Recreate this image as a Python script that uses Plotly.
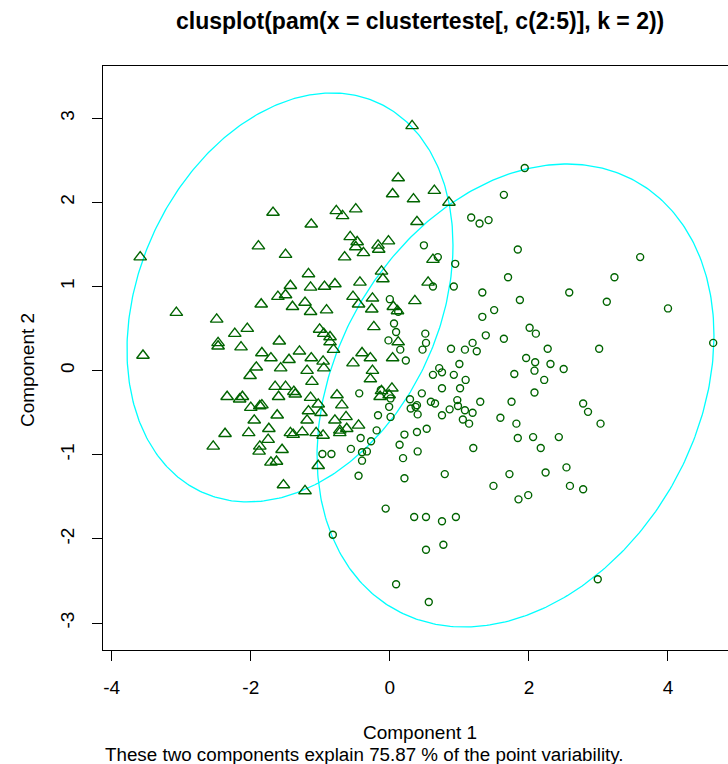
import numpy as np
import plotly.graph_objects as go

# Cluster 1 members (triangles), coordinates on the first two principal components
tri_x = [0.32, 0.12, 0.64, 0.04, 0.34, 0.85, -0.77, -0.49, -0.68, 0.39, -1.13, -1.68,
         -1.89, -1.50, -3.59, -0.57, -0.47, -0.49, -0.17, -0.02, -0.16, -0.38, -0.65, 0.62,
         -1.17, -0.12, -0.10, -0.79, -0.43, -1.14, -0.94, 0.55, -1.43, -1.61, -1.50, -1.85,
         -1.22, -1.40, -1.14, -3.07, -2.49, -2.05, -2.23, -1.01, -1.59, -2.47, -2.47, -2.14,
         -3.55, -1.84, -1.71, -1.30, -1.13, -1.45, -1.92, -1.57, -1.19, -2.01, -1.12, -1.65,
         -1.50, -1.38, -1.36, -1.60, -2.34, -2.16, -2.12, -1.14, -1.84, -1.87, -2.00, -1.03,
         -1.62, -1.17, -1.19, -1.95, -1.74, -2.03, -2.37, -1.43, -1.26, -1.39, -1.06, -1.75,
         -2.54, -1.87, -1.88, -1.55, -1.71, -1.63, -1.03, -0.53, -0.45, -0.25, -0.26, 0.05,
         0.11, 0.36, -0.91, -0.23, -0.95, -0.86, -0.86, 0.12, -0.96, -0.95, -0.81, -0.40,
         -0.28, -0.53, 0.04, -0.25, -0.28, -0.12, 0.03, -0.14, -0.01, -0.76, -0.69, -0.99,
         -0.79, -0.63, -0.72, -0.62, -0.45, -0.96, -0.72, -1.53, -1.22]
tri_y = [2.91, 2.29, 2.14, 2.10, 2.04, 2.00, 1.90, 1.92, 1.84, 1.77, 1.74, 1.88,
         1.48, 1.38, 1.35, 1.59, 1.53, 1.47, 1.49, 1.54, 1.44, 1.40, 1.35, 1.32,
         1.15, 1.18, 1.09, 1.03, 1.05, 0.99, 1.00, 1.05, 1.01, 0.88, 0.90, 0.79,
         0.81, 0.76, 0.70, 0.69, 0.61, 0.50, 0.44, 0.49, 0.35, 0.33, 0.29, 0.28,
         0.18, 0.21, 0.15, 0.23, 0.15, 0.13, 0.04, 0.03, 0.00, -0.06, -0.13, -0.19,
         -0.19, -0.25, -0.28, -0.31, -0.31, -0.34, -0.31, -0.32, -0.41, -0.42, -0.44, -0.40,
         -0.53, -0.48, -0.59, -0.59, -0.69, -0.74, -0.75, -0.74, -0.73, -0.76, -0.74, -0.82,
         -0.90, -0.90, -0.96, -0.94, -1.09, -1.08, -1.13, 0.88, 0.79, 0.86, 0.73, 0.76,
         0.71, 0.83, 0.72, 0.52, 0.44, 0.40, 0.34, 0.34, 0.11, 0.03, 0.25, 0.21,
         0.15, 0.09, 0.15, 0.00, -0.10, -0.24, -0.21, -0.31, -0.29, -0.29, -0.41, -0.50,
         -0.59, -0.55, -0.71, -0.69, -0.65, -0.77, -0.74, -1.36, -1.43]

# Cluster 2 members (circles)
circ_x = [1.17, 1.29, 1.42, 0.49, 0.69, 0.94, 0.62, 0.92, 1.94, 1.64, 1.84, 3.60,
          1.70, 3.23, 1.33, 1.87, 2.58, 3.12, 4.00, 1.50, 1.33, 2.01, 2.10, 1.38,
          1.64, 4.65, 2.27, 3.01, 1.96, 2.09, 2.31, 2.08, 2.50, 1.79, 2.22, 2.08,
          1.30, 1.75, 2.78, 2.85, 1.59, 1.82, 3.03, 1.84, 2.06, 2.43, 2.17, 2.54,
          2.24, 1.72, 1.49, 1.85, 1.99, 2.59, 2.78, 2.99, -0.40, 0.19, -0.45, 0.21,
          0.79, -0.06, 0.35, 0.52, 0.75, 0.95, -0.82, 0.52, 0.77, 0.09, 0.56, 0.00,
          0.12, 0.06, 0.09, 0.51, -0.02, 0.52, 0.15, 0.47, 0.88, 1.19, 1.08, 1.25,
          0.23, 1.00, 0.71, 0.62, 0.75, 0.92, 1.09, 0.75, 1.01, -0.44, 0.46, -0.13,
          0.01, -0.01, 0.01, 0.29, 0.39, 0.37, 0.30, 0.59, 0.65, 0.40, 0.97, 0.98,
          0.86, 1.08, 1.19, 0.75, 1.05, 1.14, -0.17, -0.19, -0.42, -0.27, -0.56, -0.40,
          -0.33, -0.97, -0.84, 0.21, 0.39, 0.53, 0.14, 0.40, 1.20]
circ_y = [1.82, 1.75, 1.79, 1.49, 1.35, 1.27, 1.00, 1.00, 2.41, 2.09, 1.44, 1.35,
          1.11, 1.11, 0.93, 0.84, 0.93, 0.82, 0.74, 0.72, 0.64, 0.51, 0.44, 0.42,
          0.38, 0.33, 0.26, 0.26, 0.15, 0.10, 0.08, 0.00, 0.02, -0.04, -0.11, -0.26,
          -0.37, -0.37, -0.39, -0.49, -0.56, -0.63, -0.63, -0.80, -0.79, -0.79, -0.92, -1.15,
          -1.21, -1.23, -1.37, -1.53, -1.48, -1.37, -1.41, -2.48, -1.07, -1.04, -1.25, -1.28,
          -1.23, -1.64, -1.74, -1.74, -1.79, -1.74, -1.95, -2.13, -2.07, -2.54, -2.75, 0.85,
          0.70, 0.56, 0.46, 0.44, 0.36, 0.33, 0.25, 0.25, 0.26, 0.33, 0.25, 0.23,
          0.12, 0.08, 0.03, -0.05, -0.02, -0.05, -0.11, -0.21, -0.21, -0.27, -0.27, -0.23,
          -0.33, -0.43, -0.55, -0.34, -0.41, -0.43, -0.45, -0.37, -0.39, -0.52, -0.35, -0.42,
          -0.46, -0.47, -0.50, -0.53, -0.58, -0.63, -0.53, -0.71, -0.80, -0.84, -0.93, -0.97,
          -0.96, -0.99, -0.99, -0.76, -0.73, -0.69, -0.88, -0.96, -0.92]

# Cluster spanning ellipses: centre, half extents along x / y, and the
# vertical offset of the point where the ellipse reaches its x extreme
ell_cx = [-1.436, 1.807]
ell_cy = [0.870, -0.295]
ell_hx = [2.344, 2.854]
ell_hy = [2.431, 2.752]
ell_off = [0.624, 0.713]

x_ticks = [-4, -2, 0, 2, 4]
y_ticks = [-3, -2, -1, 0, 1, 2, 3]
x_tick_text = ["-4", "-2", "0", "2", "4"]
y_tick_text = ["-3", "-2", "-1", "0", "1", "2", "3"]

title_text = "clusplot(pam(x = clusterteste[, c(2:5)], k = 2))"
sub_text = "These two components explain 75.87 % of the point variability."

FONT = "Liberation Sans, Arial, sans-serif"
GREEN = "#006400"

fig = go.Figure()

t = np.linspace(0, 2 * np.pi, 400)
for cx, cy, hx, hy, off in zip(ell_cx, ell_cy, ell_hx, ell_hy, ell_off):
    ex = cx + hx * np.cos(t)
    ey = cy + off * np.cos(t) + np.sqrt(hy ** 2 - off ** 2) * np.sin(t)
    fig.add_trace(go.Scatter(x=ex, y=ey, mode="lines",
                             line=dict(color="#00FFFF", width=1.3),
                             hoverinfo="skip", showlegend=False))

fig.add_trace(go.Scatter(x=tri_x, y=tri_y, mode="markers", showlegend=False,
                         marker=dict(symbol="triangle-up-open", size=11, color=GREEN,
                                     line=dict(color=GREEN, width=1.4))))
fig.add_trace(go.Scatter(x=circ_x, y=circ_y, mode="markers", showlegend=False,
                         marker=dict(symbol="circle-open", size=7, color=GREEN,
                                     line=dict(color=GREEN, width=1.4))))

axis_font = dict(family=FONT, size=19, color="black")
fig.update_xaxes(range=[-4.125, 4.863], tickvals=x_ticks, ticktext=x_tick_text,
                 ticks="outside", ticklen=10,
                 tickcolor="black", showline=True, linecolor="black", linewidth=1,
                 mirror=True, showgrid=False, zeroline=False, tickfont=axis_font,
                 ticklabelstandoff=10)
fig.update_yaxes(range=[-3.321, 3.622], tickvals=y_ticks, ticktext=y_tick_text,
                 ticks="outside", ticklen=10,
                 tickcolor="black", showline=True, linecolor="black", linewidth=1,
                 mirror=False, showgrid=False, zeroline=False, tickfont=axis_font,
                 tickangle=-90, ticklabelstandoff=10)

PW, PH, L, T = 625, 584, 103, 66


def px(xp):
    return (xp - L) / PW


def py(yp):
    return (T + PH - yp) / PH


fig.update_layout(
    width=728, height=764,
    margin=dict(l=L, r=0, t=T, b=764 - T - PH),
    paper_bgcolor="white", plot_bgcolor="white",
    font=dict(family=FONT, color="black"),
    annotations=[
        dict(text="<b>" + title_text + "</b>", x=px(420), y=py(21), xref="paper", yref="paper",
             showarrow=False, font=dict(family=FONT, size=23, color="black"),
             xanchor="center", yanchor="middle"),
        dict(text="Component 1", x=px(420), y=py(732), xref="paper", yref="paper",
             showarrow=False, font=axis_font, xanchor="center", yanchor="middle"),
        dict(text=sub_text, x=px(103), y=py(754), xref="paper", yref="paper",
             showarrow=False, font=dict(family=FONT, size=18.8, color="black"),
             xanchor="left", yanchor="middle"),
        dict(text="Component 2", x=px(27), y=py(370), xref="paper", yref="paper",
             showarrow=False, font=axis_font, textangle=-90,
             xanchor="center", yanchor="middle"),
    ],
)

fig.write_html("out.html")
